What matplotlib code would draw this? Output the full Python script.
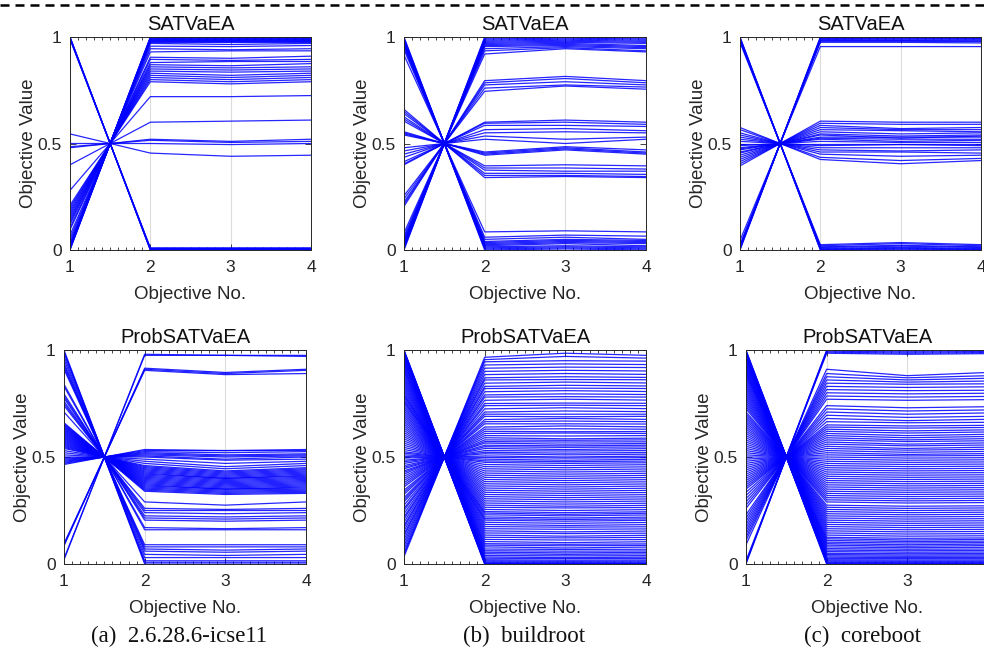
import matplotlib
matplotlib.use("Agg")
import matplotlib.pyplot as plt
from matplotlib.ticker import MultipleLocator
from matplotlib.lines import Line2D

plt.rcParams['font.family'] = ['Liberation Sans', 'DejaVu Sans']

objective_nos = [1, 2, 3, 4]
x_tick_labels = ['1', '2', '3', '4']
y_ticks = [0, 0.5, 1]
y_tick_labels = ['0', '0.5', '1']
row_titles = ['SATVaEA', 'ProbSATVaEA']
captions = ['(a)  2.6.28.6-icse11', '(b)  buildroot', '(c)  coreboot']

# Objective 1 is the complement of objective 2 (all lines cross at 0.5),
# so each solution is listed by its values on objectives 2, 3 and 4.

# ---- (a) 2.6.28.6-icse11, SATVaEA ----
icse_sat_obj2 = [0.0, 0.0, 0.002, 0.004, 0.006, 0.008, 0.01,
                 1.0, 0.998, 0.995, 0.992, 0.99, 0.987, 0.985, 0.982, 0.98, 0.977, 0.975, 0.97,
                 0.957, 0.945, 0.93, 0.905, 0.895, 0.88, 0.87, 0.86, 0.85, 0.84, 0.83, 0.82, 0.81, 0.80, 0.79,
                 0.72, 0.60, 0.52, 0.515, 0.50, 0.455]
icse_sat_obj3 = [0.0, 0.002, 0.003, 0.004, 0.006, 0.008, 0.01,
                 1.0, 0.998, 0.995, 0.992, 0.99, 0.987, 0.985, 0.982, 0.98, 0.977, 0.975, 0.965,
                 0.955, 0.94, 0.935, 0.90, 0.89, 0.885, 0.865, 0.855, 0.845, 0.835, 0.82, 0.81, 0.80, 0.79, 0.78,
                 0.72, 0.605, 0.51, 0.505, 0.495, 0.44]
icse_sat_obj4 = [0.0, 0.0, 0.002, 0.004, 0.006, 0.008, 0.01,
                 1.0, 0.998, 0.995, 0.992, 0.99, 0.987, 0.985, 0.982, 0.98, 0.977, 0.975, 0.97,
                 0.96, 0.945, 0.935, 0.91, 0.895, 0.885, 0.875, 0.86, 0.85, 0.84, 0.83, 0.82, 0.81, 0.80, 0.79,
                 0.725, 0.61, 0.52, 0.51, 0.50, 0.445]

# ---- (b) buildroot, SATVaEA ----
buildroot_sat_obj2 = [1.0, 0.995, 0.99, 0.985, 0.98, 0.975, 0.97, 0.965, 0.96, 0.955, 0.945, 0.935, 0.92,
                      0.795, 0.785, 0.775, 0.76, 0.745,
                      0.60, 0.595, 0.585, 0.565, 0.55, 0.535, 0.52,
                      0.46, 0.455, 0.45, 0.445,
                      0.395, 0.385, 0.375, 0.36, 0.35, 0.34,
                      0.085, 0.06, 0.05, 0.04, 0.035, 0.03, 0.025, 0.02, 0.015, 0.01, 0.005, 0.0]
buildroot_sat_obj3 = [1.0, 0.998, 0.995, 0.99, 0.985, 0.98, 0.975, 0.97, 0.965, 0.96, 0.955, 0.95, 0.945,
                      0.815, 0.805, 0.79, 0.775, 0.77,
                      0.61, 0.60, 0.585, 0.57, 0.555, 0.52, 0.50,
                      0.485, 0.48, 0.475, 0.47,
                      0.40, 0.385, 0.37, 0.36, 0.35, 0.345,
                      0.09, 0.07, 0.06, 0.05, 0.045, 0.04, 0.035, 0.03, 0.02, 0.015, 0.01, 0.005]
buildroot_sat_obj4 = [1.0, 0.995, 0.99, 0.985, 0.98, 0.975, 0.97, 0.96, 0.955, 0.95, 0.945, 0.935, 0.93,
                      0.795, 0.785, 0.775, 0.765, 0.755,
                      0.60, 0.59, 0.58, 0.56, 0.55, 0.53, 0.52,
                      0.47, 0.46, 0.455, 0.45,
                      0.395, 0.38, 0.37, 0.355, 0.345, 0.34,
                      0.085, 0.065, 0.05, 0.045, 0.04, 0.035, 0.03, 0.02, 0.015, 0.01, 0.005, 0.0]

# ---- (c) coreboot, SATVaEA ----
coreboot_sat_obj2 = [1.0, 0.997, 0.993, 0.99, 0.987, 0.983, 0.98, 0.975, 0.955,
                     0.605, 0.595, 0.585, 0.575, 0.565, 0.555, 0.545, 0.54, 0.53, 0.525,
                     0.52, 0.51, 0.50, 0.49, 0.48, 0.47, 0.46, 0.45, 0.435, 0.425,
                     0.025, 0.02, 0.015, 0.012, 0.008, 0.005, 0.002, 0.0]
coreboot_sat_obj3 = [1.0, 0.997, 0.994, 0.99, 0.986, 0.983, 0.98, 0.975, 0.955,
                     0.60, 0.59, 0.57, 0.565, 0.56, 0.545, 0.535, 0.525, 0.53, 0.52,
                     0.51, 0.505, 0.50, 0.495, 0.48, 0.465, 0.46, 0.44, 0.42, 0.405,
                     0.035, 0.03, 0.022, 0.018, 0.012, 0.008, 0.004, 0.0]
coreboot_sat_obj4 = [1.0, 0.997, 0.993, 0.99, 0.986, 0.982, 0.978, 0.972, 0.955,
                     0.60, 0.59, 0.575, 0.565, 0.555, 0.55, 0.54, 0.535, 0.53, 0.52,
                     0.515, 0.505, 0.50, 0.49, 0.48, 0.47, 0.455, 0.445, 0.43, 0.42,
                     0.025, 0.02, 0.015, 0.012, 0.008, 0.005, 0.002, 0.0]

# ---- (a) 2.6.28.6-icse11, ProbSATVaEA ----
icse_prob_obj2 = [0.98, 0.975, 0.915, 0.91, 0.905,
                  0.535, 0.53, 0.525, 0.52, 0.515, 0.51, 0.505, 0.50, 0.49, 0.48, 0.47, 0.46,
                  0.455, 0.45, 0.445, 0.44, 0.435, 0.43, 0.425, 0.42, 0.415, 0.41, 0.405, 0.40,
                  0.395, 0.39, 0.385, 0.38, 0.375, 0.37, 0.365, 0.36, 0.355, 0.35, 0.345, 0.34,
                  0.29, 0.26, 0.25, 0.24, 0.225, 0.215, 0.205, 0.17, 0.16,
                  0.09, 0.08, 0.07, 0.06, 0.045, 0.03, 0.015, 0.008, 0.0]
icse_prob_obj3 = [0.975, 0.975, 0.895, 0.89, 0.885,
                  0.53, 0.53, 0.52, 0.51, 0.505, 0.50, 0.49, 0.485, 0.47, 0.455, 0.445, 0.435,
                  0.43, 0.425, 0.42, 0.415, 0.41, 0.405, 0.40, 0.40, 0.395, 0.39, 0.385, 0.38,
                  0.375, 0.37, 0.365, 0.36, 0.355, 0.35, 0.35, 0.345, 0.34, 0.335, 0.33, 0.325,
                  0.275, 0.255, 0.25, 0.235, 0.22, 0.21, 0.20, 0.165, 0.16,
                  0.09, 0.08, 0.065, 0.055, 0.04, 0.03, 0.015, 0.008, 0.0]
icse_prob_obj4 = [0.975, 0.97, 0.91, 0.905, 0.89,
                  0.535, 0.53, 0.525, 0.515, 0.51, 0.505, 0.50, 0.49, 0.48, 0.47, 0.46, 0.45,
                  0.445, 0.44, 0.435, 0.43, 0.425, 0.42, 0.415, 0.41, 0.405, 0.40, 0.395, 0.39,
                  0.385, 0.38, 0.375, 0.37, 0.365, 0.36, 0.355, 0.35, 0.345, 0.34, 0.335, 0.33,
                  0.29, 0.26, 0.25, 0.24, 0.225, 0.215, 0.205, 0.17, 0.16,
                  0.09, 0.08, 0.07, 0.06, 0.045, 0.03, 0.015, 0.008, 0.0]

# ---- (b) buildroot, ProbSATVaEA ----
buildroot_prob_obj2 = [0.966, 0.955, 0.945, 0.93, 0.915, 0.90, 0.885, 0.87, 0.86, 0.845,
                       0.83, 0.82, 0.805, 0.79, 0.78, 0.765, 0.75, 0.74, 0.725, 0.71,
                       0.70, 0.69, 0.675, 0.665, 0.655, 0.64, 0.63, 0.62, 0.61, 0.60,
                       0.59, 0.58, 0.572, 0.565, 0.555, 0.548, 0.54, 0.53, 0.522, 0.515,
                       0.505, 0.498, 0.49, 0.482, 0.475, 0.465, 0.455, 0.445, 0.435, 0.425,
                       0.415, 0.405, 0.395, 0.385, 0.375, 0.365, 0.355, 0.345, 0.335, 0.325,
                       0.315, 0.305, 0.295, 0.285, 0.275, 0.265, 0.255, 0.245, 0.238, 0.23,
                       0.22, 0.212, 0.205, 0.195, 0.185, 0.175, 0.165, 0.155, 0.145, 0.135,
                       0.125, 0.115, 0.105, 0.095, 0.088, 0.08, 0.07, 0.062, 0.055, 0.048,
                       0.04, 0.033, 0.027, 0.02, 0.015, 0.01, 0.006, 0.003, 0.001, 0.0]
buildroot_prob_obj3 = [0.985, 0.97, 0.95, 0.935, 0.92, 0.905, 0.89, 0.875, 0.862, 0.85,
                       0.835, 0.822, 0.81, 0.795, 0.782, 0.77, 0.752, 0.742, 0.73, 0.715,
                       0.70, 0.688, 0.68, 0.668, 0.655, 0.645, 0.632, 0.618, 0.612, 0.598,
                       0.585, 0.578, 0.57, 0.56, 0.552, 0.545, 0.535, 0.528, 0.518, 0.51,
                       0.50, 0.495, 0.485, 0.478, 0.47, 0.46, 0.45, 0.44, 0.43, 0.42,
                       0.41, 0.40, 0.39, 0.38, 0.37, 0.36, 0.35, 0.34, 0.33, 0.32,
                       0.31, 0.30, 0.29, 0.28, 0.27, 0.262, 0.25, 0.24, 0.232, 0.225,
                       0.215, 0.208, 0.20, 0.19, 0.18, 0.172, 0.162, 0.15, 0.142, 0.13,
                       0.122, 0.112, 0.10, 0.092, 0.085, 0.075, 0.068, 0.06, 0.052, 0.045,
                       0.038, 0.03, 0.025, 0.018, 0.013, 0.009, 0.005, 0.003, 0.001, 0.0]
buildroot_prob_obj4 = [0.975, 0.962, 0.948, 0.932, 0.918, 0.902, 0.886, 0.872, 0.861, 0.846,
                       0.832, 0.82, 0.806, 0.792, 0.78, 0.766, 0.751, 0.74, 0.726, 0.712,
                       0.70, 0.69, 0.676, 0.665, 0.654, 0.641, 0.63, 0.619, 0.61, 0.60,
                       0.588, 0.58, 0.571, 0.563, 0.555, 0.547, 0.539, 0.53, 0.521, 0.513,
                       0.504, 0.497, 0.489, 0.481, 0.473, 0.464, 0.454, 0.444, 0.434, 0.424,
                       0.414, 0.404, 0.394, 0.384, 0.374, 0.364, 0.354, 0.344, 0.334, 0.324,
                       0.314, 0.304, 0.294, 0.284, 0.274, 0.264, 0.254, 0.244, 0.237, 0.229,
                       0.219, 0.211, 0.204, 0.194, 0.184, 0.174, 0.164, 0.154, 0.144, 0.134,
                       0.124, 0.114, 0.104, 0.094, 0.087, 0.079, 0.069, 0.061, 0.054, 0.047,
                       0.039, 0.032, 0.026, 0.019, 0.014, 0.009, 0.005, 0.002, 0.001, 0.0]

# ---- (c) coreboot, ProbSATVaEA ----
coreboot_prob_obj2 = [1.0, 0.995, 0.99, 0.985, 0.91, 0.89, 0.875, 0.86, 0.845, 0.83,
                      0.815, 0.80, 0.785, 0.77, 0.74, 0.725, 0.71, 0.695, 0.68, 0.665,
                      0.65, 0.64, 0.63, 0.62, 0.61, 0.60, 0.59, 0.58, 0.57, 0.56,
                      0.55, 0.54, 0.53, 0.52, 0.51, 0.50, 0.49, 0.48, 0.47, 0.46,
                      0.45, 0.44, 0.43, 0.42, 0.41, 0.40, 0.39, 0.38, 0.37, 0.36,
                      0.35, 0.34, 0.33, 0.32, 0.31, 0.30, 0.29, 0.275, 0.265, 0.255,
                      0.245, 0.235, 0.225, 0.215, 0.205, 0.195, 0.185, 0.175, 0.165, 0.155,
                      0.145, 0.135, 0.125, 0.118, 0.11, 0.102, 0.095, 0.088, 0.08, 0.072,
                      0.065, 0.058, 0.05, 0.044, 0.038, 0.032, 0.026, 0.02, 0.015, 0.01,
                      0.006, 0.003, 0.0]
coreboot_prob_obj3 = [0.995, 0.99, 0.985, 0.98, 0.88, 0.87, 0.86, 0.85, 0.84, 0.825,
                      0.81, 0.795, 0.78, 0.765, 0.73, 0.715, 0.70, 0.685, 0.67, 0.66,
                      0.645, 0.635, 0.622, 0.612, 0.60, 0.59, 0.58, 0.572, 0.56, 0.552,
                      0.54, 0.532, 0.522, 0.512, 0.505, 0.495, 0.485, 0.475, 0.465, 0.455,
                      0.445, 0.435, 0.425, 0.415, 0.405, 0.395, 0.385, 0.375, 0.365, 0.355,
                      0.345, 0.335, 0.325, 0.315, 0.305, 0.295, 0.285, 0.27, 0.26, 0.25,
                      0.24, 0.23, 0.22, 0.21, 0.20, 0.19, 0.18, 0.17, 0.16, 0.15,
                      0.14, 0.13, 0.12, 0.112, 0.105, 0.098, 0.09, 0.083, 0.076, 0.069,
                      0.062, 0.055, 0.048, 0.042, 0.036, 0.03, 0.025, 0.019, 0.014, 0.01,
                      0.006, 0.003, 0.0]
coreboot_prob_obj4 = [0.998, 0.993, 0.988, 0.983, 0.895, 0.88, 0.868, 0.855, 0.842, 0.828,
                      0.812, 0.798, 0.783, 0.768, 0.735, 0.72, 0.706, 0.69, 0.676, 0.662,
                      0.648, 0.638, 0.627, 0.617, 0.606, 0.596, 0.586, 0.576, 0.566, 0.556,
                      0.546, 0.536, 0.526, 0.516, 0.507, 0.497, 0.487, 0.477, 0.467, 0.457,
                      0.447, 0.437, 0.427, 0.417, 0.407, 0.397, 0.387, 0.377, 0.367, 0.357,
                      0.347, 0.337, 0.327, 0.317, 0.307, 0.297, 0.287, 0.272, 0.262, 0.252,
                      0.242, 0.232, 0.222, 0.212, 0.202, 0.192, 0.182, 0.172, 0.162, 0.152,
                      0.142, 0.132, 0.122, 0.115, 0.107, 0.10, 0.093, 0.086, 0.078, 0.07,
                      0.063, 0.056, 0.049, 0.043, 0.037, 0.031, 0.025, 0.019, 0.014, 0.01,
                      0.006, 0.003, 0.0]

W, H = 984, 650
fig = plt.figure(figsize=(W / 100, H / 100), dpi=100)

def px_axes(left, top, right, bottom):
    return fig.add_axes([left / W, 1 - bottom / H, (right - left) / W, (bottom - top) / H])

panels = [
    (px_axes(70, 37, 311, 250), row_titles[0], icse_sat_obj2, icse_sat_obj3, icse_sat_obj4),
    (px_axes(404, 37, 646, 250), row_titles[0], buildroot_sat_obj2, buildroot_sat_obj3, buildroot_sat_obj4),
    (px_axes(740, 37, 981, 250), row_titles[0], coreboot_sat_obj2, coreboot_sat_obj3, coreboot_sat_obj4),
    (px_axes(64, 350, 306, 564), row_titles[1], icse_prob_obj2, icse_prob_obj3, icse_prob_obj4),
    (px_axes(404, 350, 646, 564), row_titles[1], buildroot_prob_obj2, buildroot_prob_obj3, buildroot_prob_obj4),
    (px_axes(746, 350, 988, 564), row_titles[1], coreboot_prob_obj2, coreboot_prob_obj3, coreboot_prob_obj4),
]

text_col = '#262626'
for ax, title, o2, o3, o4 in panels:
    for v2, v3, v4 in zip(o2, o3, o4):
        ax.plot(objective_nos, [1 - v2, v2, v3, v4], color='#0000ff', lw=0.9, alpha=0.85,
                zorder=3)
    ax.set_xlim(1, 4)
    ax.set_ylim(0, 1)
    ax.set_xticks(objective_nos)
    ax.set_xticklabels(x_tick_labels)
    ax.set_yticks(y_ticks)
    ax.set_yticklabels(y_tick_labels)
    ax.xaxis.set_minor_locator(MultipleLocator(0.1))
    ax.tick_params(which='both', direction='in', top=True, right=True,
                   labelsize=12.5, colors=text_col, width=0.6)
    ax.tick_params(which='major', length=4)
    ax.tick_params(axis='x', which='major', pad=7)
    ax.tick_params(axis='y', which='major', pad=6)
    ax.tick_params(which='minor', length=2)
    ax.grid(True, axis='x', which='major', color='#dcdcdc', lw=0.8, zorder=0)
    ax.set_axisbelow(True)
    for s in ax.spines.values():
        s.set_color(text_col)
        s.set_linewidth(0.7)
        s.set_zorder(4)
    ax.set_title(title, fontsize=14.5, pad=5, color='#111111')
    ax.set_xlabel('Objective No.', fontsize=13.5, labelpad=8, color=text_col)
    ax.set_ylabel('Objective Value', fontsize=13.5, labelpad=0, color=text_col)

for cx, cap in zip([179, 524, 863], captions):
    fig.text(cx / W, 1 - 636 / H, cap, ha='center', va='center', fontsize=16.5,
             family=['Liberation Serif', 'DejaVu Serif'], color='#111111')

fig.add_artist(Line2D([0, 1], [1 - 5 / H, 1 - 5 / H], transform=fig.transFigure,
                      color='black', lw=1.8, linestyle=(0, (3.6, 2.4))))

fig.savefig('out.png', dpi=100)
